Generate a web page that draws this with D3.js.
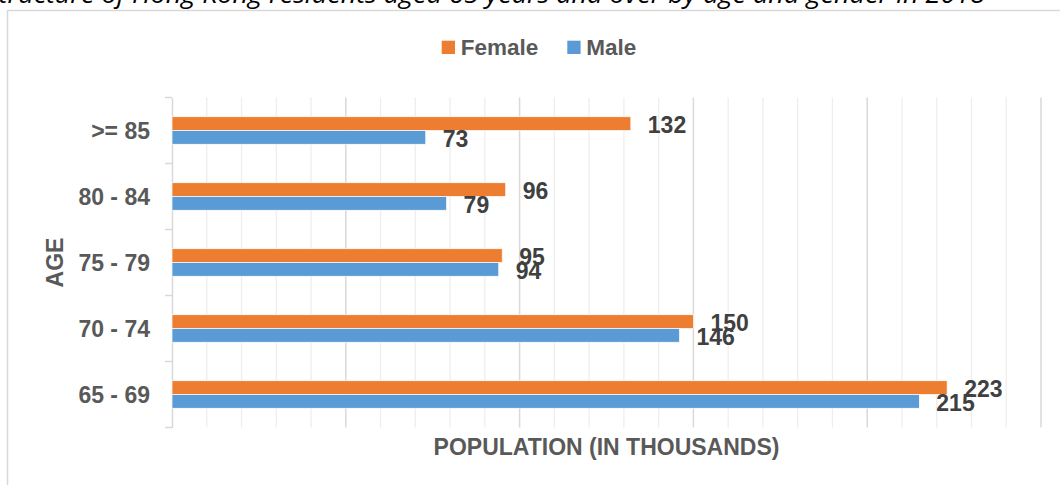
<!DOCTYPE html>
<html>
<head>
<meta charset="utf-8">
<script src="https://cdn.jsdelivr.net/npm/d3@7"></script>
<style>
  body { margin: 0; background: #fff; overflow: hidden; }
  svg { display: block; font-family: "Liberation Sans", Arial, sans-serif; }
</style>
</head>
<body>
<div id="chart"></div>
<script>
// data (thousands of persons)
var ageGroups = [">= 85", "80 - 84", "75 - 79", "70 - 74", "65 - 69"];
var femaleValues = [132, 96, 95, 150, 223];
var maleValues = [73, 79, 94, 146, 215];
var seriesNames = ["Female", "Male"];
var seriesColors = ["#ED7D31", "#5B9BD5"];
var titleText = "Structure of Hong Kong residents aged 65 years and over by age and gender in 2018";

var W = 1060, H = 485;

var svg = d3.select("#chart").append("svg")
    .attr("width", W)
    .attr("height", H);

// chart frame (runs off the right / bottom edge)
svg.append("rect")
    .attr("x", 7.5).attr("y", 10.5)
    .attr("width", 1100).attr("height", 500)
    .attr("fill", "#fff")
    .attr("stroke", "#d9d9d9")
    .attr("stroke-width", 1.5);

// cut-off title above the frame
svg.append("text")
    .attr("x", 985)
    .attr("y", 3)
    .attr("text-anchor", "end")
    .style("font-family", "'Open Sans', 'Noto Sans', sans-serif")
    .style("font-style", "italic")
    .style("font-size", "26px")
    .attr("fill", "#000")
    .attr("textLength", 1000)
    .attr("lengthAdjust", "spacingAndGlyphs")
    .text(titleText);

var x = d3.scaleLinear()
    .domain([0, 250])
    .range([172, 1041]);

var y = d3.scaleBand()
    .domain(ageGroups)
    .range([97.5, 427.5]);

var inner = d3.scaleBand()
    .domain(seriesNames)
    .range([0, y.bandwidth()])
    .paddingOuter(1.4)
    .paddingInner(0);

// gridlines
var g = svg.append("g");
g.selectAll(".minor")
    .data(d3.range(10, 251, 10).filter(function(v){ return v % 50 != 0; }))
    .enter().append("line")
    .attr("class", "minor")
    .attr("x1", function(d){ return x(d); })
    .attr("x2", function(d){ return x(d); })
    .attr("y1", y.range()[0])
    .attr("y2", y.range()[1])
    .attr("stroke", "#eeeeee")
    .attr("stroke-width", 1.3);

g.selectAll(".major")
    .data([50, 100, 150, 200, 250])
    .enter().append("line")
    .attr("class", "major")
    .attr("x1", function(d){ return x(d); })
    .attr("x2", function(d){ return x(d); })
    .attr("y1", y.range()[0])
    .attr("y2", y.range()[1])
    .attr("stroke", "#d9d9d9")
    .attr("stroke-width", 1.5);

// category axis with tick marks between groups
var yAxis = d3.axisLeft(y).tickSize(0).tickPadding(22);
var ya = svg.append("g")
    .attr("transform", "translate(" + x(0) + ",0)")
    .call(yAxis);
ya.select(".domain").attr("stroke", "#d9d9d9").attr("stroke-width", 1.5);
ya.selectAll(".tick text")
    .style("font-size", "23px")
    .style("font-weight", "bold")
    .attr("fill", "#595959")
    .attr("dy", "0.36em");

var bounds = ageGroups.map(function(d){ return y(d); }).concat([y.range()[1]]);
svg.selectAll(".ytick")
    .data(bounds)
    .enter().append("line")
    .attr("class", "ytick")
    .attr("x1", x(0) - 7)
    .attr("x2", x(0))
    .attr("y1", function(d){ return d; })
    .attr("y2", function(d){ return d; })
    .attr("stroke", "#d9d9d9")
    .attr("stroke-width", 1.5);

// bars
var rows = ageGroups.map(function(a, i){
    return { age: a, values: [
        { name: "Female", value: femaleValues[i], color: seriesColors[0] },
        { name: "Male", value: maleValues[i], color: seriesColors[1] }
    ]};
});

var groups = svg.selectAll(".grp")
    .data(rows)
    .enter().append("g")
    .attr("class", "grp")
    .attr("transform", function(d){ return "translate(0," + y(d.age) + ")"; });

groups.selectAll("rect")
    .data(function(d){ return d.values; })
    .enter().append("rect")
    .attr("x", x(0))
    .attr("y", function(d){ return inner(d.name); })
    .attr("width", function(d){ return x(d.value) - x(0); })
    .attr("height", inner.bandwidth())
    .attr("fill", function(d){ return d.color; })
    .attr("stroke", "#fff")
    .attr("stroke-width", 0.7);

groups.selectAll(".lbl")
    .data(function(d){ return d.values; })
    .enter().append("text")
    .attr("class", "lbl")
    .attr("x", function(d){ return x(d.value) + 17; })
    .attr("y", function(d){ return inner(d.name) + inner.bandwidth() / 2 + 1; })
    .attr("dy", "0.36em")
    .style("font-size", "23px")
    .style("font-weight", "bold")
    .attr("fill", "#404040")
    .text(function(d){ return d.value; });

// axis titles
svg.append("text")
    .attr("x", (x.range()[0] + x.range()[1]) / 2)
    .attr("y", 455)
    .attr("text-anchor", "middle")
    .style("font-size", "23px")
    .style("font-weight", "bold")
    .attr("fill", "#595959")
    .text("POPULATION (IN THOUSANDS)");

svg.append("text")
    .attr("transform", "translate(62.5," + ((y.range()[0] + y.range()[1]) / 2) + ") rotate(-90)")
    .attr("text-anchor", "middle")
    .style("font-size", "23px")
    .style("font-weight", "bold")
    .attr("fill", "#595959")
    .text("AGE");

// legend
var legendX = [441.7, 567.3];
var legend = svg.selectAll(".leg")
    .data(seriesNames)
    .enter().append("g")
    .attr("class", "leg")
    .attr("transform", function(d, i){ return "translate(" + legendX[i] + ",0)"; });

legend.append("rect")
    .attr("x", 0).attr("y", 40.7)
    .attr("width", 13.3).attr("height", 13.3)
    .attr("fill", function(d, i){ return seriesColors[i]; });

legend.append("text")
    .attr("x", 19)
    .attr("y", 55)
    .style("font-size", "22.5px")
    .style("font-weight", "bold")
    .attr("fill", "#595959")
    .text(function(d){ return d; });
</script>
</body>
</html>
